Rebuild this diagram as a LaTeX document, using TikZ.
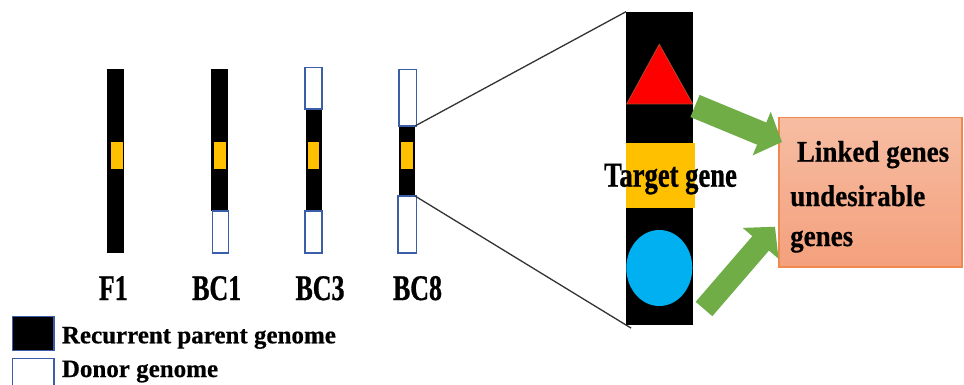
\documentclass[tikz,border=0pt]{standalone}
\usepackage{fontspec}
\setmainfont{Liberation Serif}[FakeBold=0.5]
\newfontfamily\chrfont[FakeStretch=0.72,FakeBold=0.8]{Liberation Serif}
\newfontfamily\tgtfont[FakeStretch=0.76,FakeBold=0.8]{Liberation Serif}
\newfontfamily\boxfont[FakeStretch=0.9,FakeBold=0.6]{Liberation Serif}
\usetikzlibrary{arrows.meta,shapes.geometric,calc}

\definecolor{genome}{HTML}{000000}
\definecolor{donorline}{HTML}{3A5FA8}
\definecolor{targetgene}{HTML}{FFC000}
\definecolor{linkgreen}{HTML}{70AD47}
\definecolor{trired}{HTML}{FF0000}
\definecolor{triedge}{HTML}{B5462A}
\definecolor{circblue}{HTML}{00B0F0}
\definecolor{boxtop}{HTML}{F6BDA3}
\definecolor{boxbot}{HTML}{F4A07C}
\definecolor{boxedge}{HTML}{F0894E}
\definecolor{zoomline}{HTML}{333333}

\tikzset{
  seg/.style={inner sep=0pt, outer sep=0pt},
  recurrent/.style={seg, fill=genome},
  donor/.style={seg, fill=white, draw=donorline, line width=1.3pt},
  gene/.style={seg, fill=targetgene},
  chrlabel/.style={anchor=base, inner sep=0pt, font=\chrfont\bfseries\fontsize{36}{40}\selectfont},
  boxtext/.style={anchor=base west, inner sep=0pt, font=\boxfont\bfseries\fontsize{30}{34}\selectfont},
  legtext/.style={anchor=base west, inner sep=0pt, font=\bfseries\fontsize{25}{28}\selectfont},
  zoom/.style={draw=zoomline, line width=1.3pt},
  fatarrow/.style={draw=linkgreen, line width=#1, line cap=butt,
    -{Triangle[width=46pt,length=22pt]}},
}

\begin{document}
\begin{tikzpicture}[x=1pt, y=-1pt]
\clip (0,0) rectangle (964,385);
\fill[white] (0,0) rectangle (964,385);

% F1
\node[recurrent, minimum width=17pt, minimum height=184pt] (f1) at (115.5,161) {};
\node[gene, minimum width=11.5pt, minimum height=27pt] (f1g) at (116.75,155.5) {};
\node[chrlabel] (f1l) at (113.3,300) {F1};

% BC1
\node[recurrent, minimum width=16.5pt, minimum height=142pt] (bc1) at (219.25,140) {};
\node[donor, minimum width=16pt, minimum height=42pt] (bc1d) at (220.7,232) {};
\node[gene, minimum width=12pt, minimum height=27pt] (bc1g) at (219.5,155.5) {};
\node[chrlabel] (bc1l) at (216.7,300) {BC1};

% BC3
\node[recurrent, minimum width=16.5pt, minimum height=102pt] (bc3) at (313.75,160) {};
\node[donor, minimum width=17pt, minimum height=41.5pt] (bc3t) at (313.5,88.25) {};
\node[donor, minimum width=17pt, minimum height=42pt] (bc3b) at (313.5,232) {};
\node[gene, minimum width=11.6pt, minimum height=27pt] (bc3g) at (313.5,155.5) {};
\node[chrlabel] (bc3l) at (320,300) {BC3};

% BC8
\node[recurrent, minimum width=16pt, minimum height=70pt] (bc8) at (407,161) {};
\node[donor, minimum width=17.5pt, minimum height=56.5pt] (bc8t) at (407.75,97.75) {};
\node[donor, minimum width=18.5pt, minimum height=57pt] (bc8b) at (407.25,224.5) {};
\node[gene, minimum width=12pt, minimum height=27pt] (bc8g) at (407,155.5) {};
\node[chrlabel] (bc8l) at (417.5,300) {BC8};

% enlarged segment of BC8
\node[recurrent, minimum width=67.3pt, minimum height=313.3pt] (big) at (659.65,168.35) {};
\filldraw[fill=trired, draw=triedge, line width=0.8pt]
  (659.3,44.3) -- (692.7,104) -- (626.7,104) -- cycle;
\node[gene, minimum width=69pt, minimum height=65.6pt] (tg) at (660.5,175.5) {};
\node[seg, ellipse, fill=circblue, minimum width=66pt, minimum height=76pt] (circ) at (659.3,268) {};
\node[anchor=base, inner sep=0pt, font=\tgtfont\bfseries\fontsize{35}{38}\selectfont]
  (tgl) at (670.5,186.7) {Target gene};

\draw[zoom] (bc8.north east) -- (big.north west);
\draw[zoom, shorten >=-6pt] (bc8.south east) -- (big.south west);

% linked genes box
\node[seg, minimum width=183pt, minimum height=149.5pt, top color=boxtop, bottom color=boxbot,
      draw=boxedge, line width=1.5pt] (box) at (870.5,192.25) {};
\node[boxtext] (bt1) at (796.7,161.7) {Linked genes};
\node[boxtext] (bt2) at (790,206) {undesirable};
\node[boxtext] (bt3) at (790,246) {genes};

% arrows from flanking genes to the box
\coordinate (upTail) at (695,106);
\coordinate (upTip) at ($(box.north west)+(3,24.5)$);
\coordinate (dnTail) at (704,309);
\coordinate (dnTip) at ($(box.north west)+(-4,109.2)$);
\draw[fatarrow=24pt] (upTail) -- (upTip);
\draw[fatarrow=22pt] (dnTail) -- (dnTip);

% legend
\node[seg, fill=genome, draw=donorline, line width=1.3pt, minimum width=41.3pt, minimum height=34pt] (legR) at (33.35,333.7) {};
\node[seg, fill=white, draw=donorline, line width=1.3pt, minimum width=41.3pt, minimum height=34pt] (legD) at (33.35,375.3) {};
\node[legtext] (legRt) at (61.7,343.3) {Recurrent parent genome};
\node[legtext] (legDt) at (61.7,377) {Donor genome};
\end{tikzpicture}
\end{document}
